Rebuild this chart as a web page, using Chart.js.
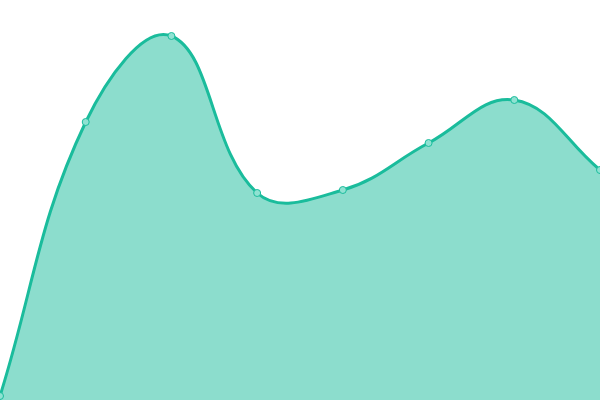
<!DOCTYPE html>
<html>
<head>
<meta charset="utf-8">
<script src="https://cdn.jsdelivr.net/npm/chart.js@4"></script>
<style>
  html, body { margin:0; padding:0; background:#fff; }
  #wrap { width:600px; height:400px; }
</style>
</head>
<body>
<div id="wrap"><canvas id="areaChart"></canvas></div>
<script>
const labels = ["A","B","C","D","E","F","G","H"];
const values = [1, 69.5, 91, 51.75, 52.5, 64.25, 75, 57.5];

const yMin = 0;
const yMax = 100;

const ctx = document.getElementById('areaChart');

new Chart(ctx,{
  type:'line',
  data:{
    labels,
    datasets:[{
      data:values,
      fill:true,
      tension:0.4,
      borderColor:'#1abc9c',
      backgroundColor:'rgba(26,188,156,0.5)',
      borderWidth:3,
      pointRadius:3.5,
      pointBorderWidth:1,
      pointBackgroundColor:'#8fe2d2',
      pointBorderColor:'#1abc9c'
    }]
  },
  options:{
    responsive:true,
    maintainAspectRatio:false,
    animation:false,
    layout:{ padding:0, autoPadding:false },
    plugins:{ legend:{display:false}, tooltip:{enabled:false} },
    scales:{
      x:{ display:false, offset:false },
      y:{ display:false, min:yMin, max:yMax }
    }
  }
});
</script>
</body>
</html>
